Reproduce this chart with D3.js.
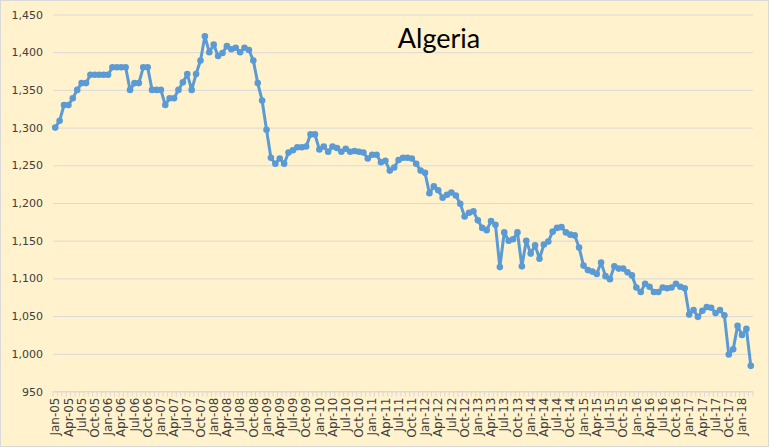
<!DOCTYPE html>
<html>
<head>
<meta charset="utf-8">
<script src="https://cdn.jsdelivr.net/npm/d3@7"></script>
<style>
  body { margin: 0; background: #FFF2CC; }
  svg { display: block; }
</style>
</head>
<body>
<div id="chart"></div>
<script>
// Monthly production, kb/d, Jan-05 .. Mar-18
var production = [
  1300, 1309, 1330, 1330, 1339, 1350, 1359, 1359, 1370, 1370, 1370, 1370,
  1370, 1380, 1380, 1380, 1380, 1350, 1359, 1359, 1380, 1380, 1350, 1350,
  1350, 1330, 1339, 1339, 1350, 1360, 1371, 1350, 1371, 1389, 1421, 1400,
  1410, 1395, 1399, 1408, 1404, 1406, 1400, 1406, 1403, 1389, 1359, 1336,
  1297, 1260, 1252, 1259, 1252, 1267, 1270, 1274, 1274, 1275, 1291, 1291,
  1271, 1275, 1268, 1275, 1273, 1268, 1272, 1268, 1269, 1268, 1267, 1259,
  1264, 1264, 1254, 1256, 1243, 1247, 1257, 1260, 1260, 1259, 1252, 1243,
  1240, 1213, 1222, 1217, 1207, 1211, 1214, 1210, 1199, 1182, 1187, 1189,
  1177, 1167, 1164, 1176, 1171, 1115, 1161, 1150, 1152, 1161, 1116, 1150,
  1133, 1144, 1126, 1145, 1149, 1162, 1167, 1168, 1161, 1158, 1157, 1141,
  1117, 1111, 1109, 1106, 1121, 1103, 1099, 1116, 1113, 1113, 1108, 1104,
  1088, 1082, 1093, 1089, 1082, 1082, 1088, 1087, 1088, 1093, 1089, 1087,
  1052, 1058, 1049, 1057, 1062, 1061, 1054, 1058, 1051, 999, 1006, 1037,
  1025, 1033, 984
];

// category labels, one per month
var firstMonth = new Date(2005, 0, 1);
var lastMonth = new Date(2018, 2, 1);
var months = d3.timeMonths(firstMonth, d3.timeMonth.offset(lastMonth, 1))
    .map(d3.timeFormat("%b-%y"));

var yTicks = [950, 1000, 1050, 1100, 1150, 1200, 1250, 1300, 1350, 1400, 1450];
var chartTitle = "Algeria";

var svgWidth = 769;
var svgHeight = 447;

var plot = { left: 53, right: 753, top: 14.5, bottom: 391.5 };

var svg = d3.select("#chart")
    .append("svg")
    .attr("width", svgWidth)
    .attr("height", svgHeight);

// chart background with a thin border
svg.append("rect")
    .attr("x", 0.5)
    .attr("y", 0.5)
    .attr("width", svgWidth - 1)
    .attr("height", svgHeight - 1)
    .attr("fill", "#FFF2CC")
    .attr("stroke", "#D9D9D9");

var xScale = d3.scaleBand()
    .domain(months)
    .range([plot.left, plot.right]);

var yScale = d3.scaleLinear()
    .domain([950, 1450])
    .range([plot.bottom, plot.top]);

// horizontal gridlines + y labels
var yAxis = d3.axisLeft(yScale)
    .tickValues(yTicks)
    .tickSize(-(plot.right - plot.left))
    .tickPadding(10)
    .tickFormat(d3.format(","));

var yG = svg.append("g")
    .attr("transform", `translate(${plot.left}, 0)`)
    .call(yAxis);
yG.select(".domain").remove();
yG.selectAll("line")
    .attr("stroke", "#D9D9D9");
yG.selectAll("text")
    .attr("fill", "#404040")
    .style("font-family", "'DejaVu Sans', Verdana, sans-serif")
    .style("font-size", "11px");

// x axis: tick marks every month, labels every 3rd month
var xG = svg.append("g")
    .attr("transform", `translate(0, ${plot.bottom})`);

xG.append("line")
    .attr("x1", plot.left)
    .attr("x2", plot.right)
    .attr("stroke", "#D9D9D9");

xG.selectAll("line.tick")
    .data(months.concat(["end"]))
    .enter()
    .append("line")
    .classed("tick", true)
    .attr("x1", (d, i) => plot.left + i * xScale.step())
    .attr("x2", (d, i) => plot.left + i * xScale.step())
    .attr("y1", 0)
    .attr("y2", 5)
    .attr("stroke", "#D9D9D9");

xG.selectAll("text")
    .data(months.filter((d, i) => i % 3 == 0))
    .enter()
    .append("text")
    .attr("transform", d => `translate(${xScale(d) + xScale.bandwidth() / 2}, 6) rotate(-90)`)
    .attr("dy", "0.35em")
    .attr("text-anchor", "end")
    .attr("fill", "#404040")
    .style("font-family", "'DejaVu Sans', Verdana, sans-serif")
    .style("font-size", "12px")
    .text(d => d);

// line and markers
var xPos = (d, i) => xScale(months[i]) + xScale.bandwidth() / 2;

var line = d3.line()
    .x(xPos)
    .y(d => yScale(d));

svg.append("path")
    .datum(production)
    .attr("d", line)
    .attr("fill", "none")
    .attr("stroke", "#5B9BD5")
    .attr("stroke-width", 3)
    .attr("stroke-linejoin", "round");

svg.selectAll("circle")
    .data(production)
    .enter()
    .append("circle")
    .attr("cx", xPos)
    .attr("cy", d => yScale(d))
    .attr("r", 3.3)
    .attr("fill", "#5B9BD5");

// title inside the plot
svg.append("text")
    .attr("x", 439)
    .attr("y", 48)
    .attr("text-anchor", "middle")
    .style("font-family", "Lato, 'Open Sans', sans-serif")
    .style("font-size", "27px")
    .attr("fill", "#000")
    .text(chartTitle);
</script>
</body>
</html>
